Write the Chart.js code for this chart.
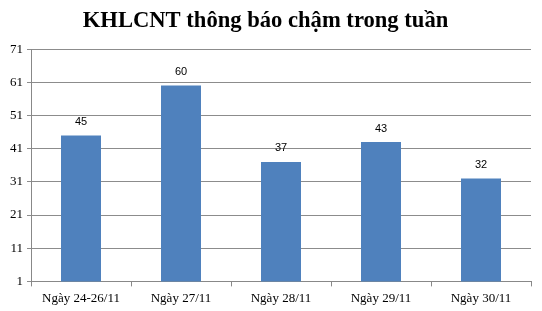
<!DOCTYPE html>
<html><head><meta charset="utf-8">
<script src="https://cdn.jsdelivr.net/npm/chart.js@4/dist/chart.umd.min.js"></script>
<style>html,body{margin:0;padding:0;background:#fff}#wrap{width:542px;height:311px}</style>
</head><body><div id="wrap"><canvas id="c" width="542" height="311"></canvas></div>
<script>
const categories = ["Ngày 24-26/11", "Ngày 27/11", "Ngày 28/11", "Ngày 29/11", "Ngày 30/11"];
const values = [45, 60, 37, 43, 32];
const yTicks = [1, 11, 21, 31, 41, 51, 61, 71];
const titleText = "KHLCNT thông báo chậm trong tuần";

const labelPlugin = {
  id: 'valLabels',
  afterDatasetsDraw(chart) {
    const ctx = chart.ctx;
    const meta = chart.getDatasetMeta(0);
    ctx.save();
    ctx.font = '11px "Liberation Sans", Arial, sans-serif';
    ctx.fillStyle = '#000';
    ctx.textAlign = 'center';
    ctx.textBaseline = 'bottom';
    meta.data.forEach((bar, i) => {
      ctx.fillText(String(values[i]), bar.x, bar.y - 8);
    });
    ctx.restore();
  }
};

new Chart(document.getElementById('c'), {
  type: 'bar',
  data: {
    labels: categories,
    datasets: [{
      data: values,
      backgroundColor: '#4F81BD',
      borderWidth: 0,
      categoryPercentage: 0.8,
      barPercentage: 0.5
    }]
  },
  options: {
    responsive: false,
    animation: false,
    devicePixelRatio: 1,
    layout: { padding: { left: 0, right: 11, top: 0, bottom: 1 } },
    plugins: {
      legend: { display: false },
      tooltip: { enabled: false },
      title: {
        display: true,
        text: titleText,
        color: '#000',
        font: { family: '"Liberation Serif", "Times New Roman", serif', size: 22.6, weight: 'bold' },
        padding: { top: 8, bottom: 14 }
      }
    },
    scales: {
      x: {
        grid: { drawOnChartArea: false, drawTicks: true, tickLength: 5, color: '#888' },
        border: { color: '#888' },
        ticks: {
          color: '#000',
          padding: 4,
          maxRotation: 0,
          font: { family: '"Liberation Serif", "Times New Roman", serif', size: 13 }
        }
      },
      y: {
        min: 1,
        max: 71,
        afterBuildTicks(scale) { scale.ticks = yTicks.map(v => ({ value: v })); },
        afterFit(scale) { scale.width = 31; },
        grid: { color: '#8c8c8c', tickLength: 4 },
        border: { color: '#888' },
        ticks: {
          color: '#000',
          padding: 4,
          font: { family: '"Liberation Serif", "Times New Roman", serif', size: 13 }
        }
      }
    }
  },
  plugins: [labelPlugin]
});
</script>
</body></html>
